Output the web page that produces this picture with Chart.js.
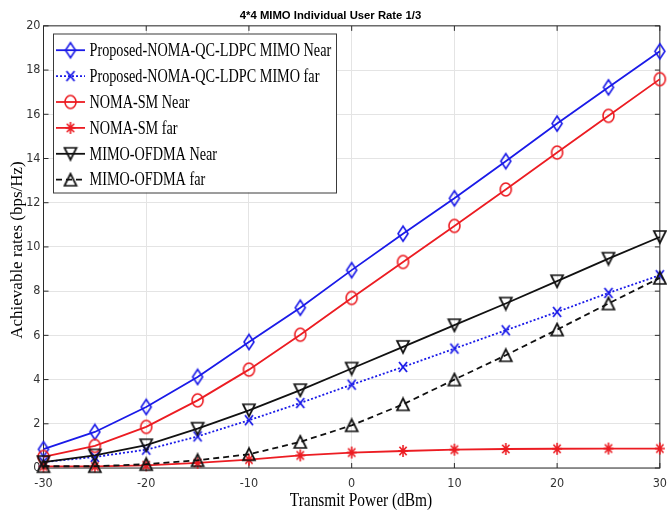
<!DOCTYPE html>
<html>
<head>
<meta charset="utf-8">
<title>4*4 MIMO Individual User Rate 1/3</title>
<script src="https://cdn.jsdelivr.net/npm/chart.js@4.4.1/dist/chart.umd.min.js"></script>
<style>
    html, body { margin: 0; padding: 0; background: #fff; }
    #wrap { width: 667px; height: 514px; }
</style>
</head>
<body>
<div id="wrap"><canvas id="rateChart" width="667" height="514"></canvas></div>
<script>
// transmit power sweep (dBm)
const powerDbm = [-30, -25, -20, -15, -10, -5, 0, 5, 10, 15, 20, 25, 30];

// achievable rates (bps/Hz)
const proposedNear = [0.85, 1.63, 2.76, 4.12, 5.7, 7.25, 8.95, 10.6, 12.2, 13.88, 15.58, 17.22, 18.85];
const proposedFar = [0.27, 0.5, 0.83, 1.43, 2.16, 2.94, 3.77, 4.57, 5.4, 6.23, 7.06, 7.92, 8.72];
const smNear = [0.5, 1.0, 1.86, 3.06, 4.45, 6.03, 7.69, 9.32, 10.95, 12.6, 14.27, 15.93, 17.59];
const smFar = [0.07, 0.07, 0.12, 0.23, 0.38, 0.57, 0.7, 0.77, 0.83, 0.86, 0.87, 0.88, 0.88];
const ofdmaNear = [0.27, 0.57, 1.03, 1.78, 2.61, 3.52, 4.5, 5.48, 6.46, 7.44, 8.45, 9.47, 10.45];
const ofdmaFar = [0.08, 0.08, 0.17, 0.35, 0.62, 1.18, 1.93, 2.88, 4.0, 5.1, 6.26, 7.44, 8.6];

const seriesNames = [
    'Proposed-NOMA-QC-LDPC MIMO Near',
    'Proposed-NOMA-QC-LDPC MIMO far',
    'NOMA-SM Near',
    'NOMA-SM far',
    'MIMO-OFDMA Near',
    'MIMO-OFDMA far'
];
const seriesValues = [proposedNear, proposedFar, smNear, smFar, ofdmaNear, ofdmaFar];

const xTicks = [-30, -20, -10, 0, 10, 20, 30];
const yTicks = [0, 2, 4, 6, 8, 10, 12, 14, 16, 18, 20];

const chartTitle = '4*4 MIMO Individual User Rate 1/3';
const xTitle = 'Transmit Power (dBm)';
const yTitle = 'Achievable rates (bps/Hz)';

const BLUE = '#1a1ae8';
const RED = '#ec1c22';
const BLACK = '#111111';
const AXIS = '#2b2b2b';

// small offscreen canvases used as point styles (markers are a bit taller than wide)
const makeMarker = (kind, color, w, h, lw) => {
    const c = document.createElement('canvas');
    c.width = Math.ceil(w + 4);
    c.height = Math.ceil(h + 4);
    const g = c.getContext('2d');
    const cx = c.width / 2, cy = c.height / 2;
    g.strokeStyle = color;
    g.lineWidth = lw;
    g.lineJoin = 'miter';
    g.beginPath();
    if (kind === 'diamond') {
        g.moveTo(cx, cy - h / 2);
        g.lineTo(cx + w / 2, cy);
        g.lineTo(cx, cy + h / 2);
        g.lineTo(cx - w / 2, cy);
        g.closePath();
    } else if (kind === 'circle') {
        g.ellipse(cx, cy, w / 2, h / 2, 0, 0, Math.PI * 2);
    } else if (kind === 'down') {
        g.moveTo(cx - w / 2, cy - h / 2);
        g.lineTo(cx + w / 2, cy - h / 2);
        g.lineTo(cx, cy + h / 2);
        g.closePath();
    } else if (kind === 'up') {
        g.moveTo(cx, cy - h / 2);
        g.lineTo(cx + w / 2, cy + h / 2);
        g.lineTo(cx - w / 2, cy + h / 2);
        g.closePath();
    } else if (kind === 'x') {
        g.moveTo(cx - w / 2, cy - h / 2);
        g.lineTo(cx + w / 2, cy + h / 2);
        g.moveTo(cx + w / 2, cy - h / 2);
        g.lineTo(cx - w / 2, cy + h / 2);
    } else if (kind === 'star') {
        g.moveTo(cx - w / 2, cy);
        g.lineTo(cx + w / 2, cy);
        g.moveTo(cx, cy - h / 2);
        g.lineTo(cx, cy + h / 2);
        g.moveTo(cx - w * 0.36, cy - h * 0.36);
        g.lineTo(cx + w * 0.36, cy + h * 0.36);
        g.moveTo(cx + w * 0.36, cy - h * 0.36);
        g.lineTo(cx - w * 0.36, cy + h * 0.36);
    }
    g.stroke();
    return c;
};

const styles = [
    { color: BLUE, dash: [], marker: makeMarker('diamond', BLUE, 10, 15, 1.6) },
    { color: BLUE, dash: [2, 2], marker: makeMarker('x', BLUE, 8, 10, 1.8) },
    { color: RED, dash: [], marker: makeMarker('circle', RED, 11, 13, 1.6) },
    { color: RED, dash: [], marker: makeMarker('star', RED, 10, 12, 1.6) },
    { color: BLACK, dash: [], marker: makeMarker('down', BLACK, 12, 12, 1.7) },
    { color: BLACK, dash: [6, 4], marker: makeMarker('up', BLACK, 12, 12, 1.7) }
];

const datasets = seriesNames.map((name, i) => ({
    label: name,
    data: powerDbm.map((p, k) => ({ x: p, y: seriesValues[i][k] })),
    borderColor: styles[i].color,
    borderWidth: 1.8,
    borderDash: styles[i].dash,
    pointStyle: styles[i].marker,
    pointRadius: 6,
    tension: 0,
    fill: false,
    clip: false,
    order: seriesNames.length - i
}));

// text drawn slightly condensed, like the original figure's fonts
const drawText = (ctx, text, x, y, font, sx, angle) => {
    ctx.save();
    ctx.translate(x, y);
    if (angle) ctx.rotate(angle);
    ctx.scale(sx, 1);
    ctx.font = font;
    ctx.fillText(text, 0, 0);
    ctx.restore();
};

// axes box with inward tick marks on all four sides
const framePlugin = {
    id: 'frame',
    beforeDatasetsDraw(chart) {
        const { ctx, chartArea: a, scales } = chart;
        ctx.save();
        ctx.strokeStyle = AXIS;
        ctx.lineWidth = 1;
        ctx.strokeRect(a.left, a.top, a.right - a.left, a.bottom - a.top);
        ctx.beginPath();
        xTicks.forEach(v => {
            const px = scales.x.getPixelForValue(v);
            ctx.moveTo(px, a.bottom); ctx.lineTo(px, a.bottom - 5);
            ctx.moveTo(px, a.top); ctx.lineTo(px, a.top + 5);
        });
        yTicks.forEach(v => {
            const py = scales.y.getPixelForValue(v);
            ctx.moveTo(a.left, py); ctx.lineTo(a.left + 5, py);
            ctx.moveTo(a.right, py); ctx.lineTo(a.right - 5, py);
        });
        ctx.stroke();
        ctx.restore();
    },
    afterDraw(chart) {
        const { ctx } = chart;
        ctx.save();
        ctx.fillStyle = '#000';
        ctx.textAlign = 'center';
        ctx.textBaseline = 'middle';
        drawText(ctx, xTitle, 361, 501, '18px "Liberation Serif", "Times New Roman", serif', 0.856, 0);
        drawText(ctx, yTitle, 18, 250, '17px "Liberation Serif", "Times New Roman", serif', 1, -Math.PI / 2);
        ctx.restore();
    }
};

// boxed legend in the upper-left corner of the plot
const boxLegendPlugin = {
    id: 'boxLegend',
    afterDraw(chart) {
        const { ctx } = chart;
        const box = { x: 53, y: 33.5, w: 283, h: 159 };
        const rowH = 25.9;
        ctx.save();
        ctx.fillStyle = '#fff';
        ctx.fillRect(box.x, box.y, box.w, box.h);
        ctx.strokeStyle = '#3a3a3a';
        ctx.lineWidth = 1;
        ctx.strokeRect(box.x + 0.5, box.y + 0.5, box.w, box.h);
        chart.data.datasets.forEach((ds, i) => {
            const y = box.y + 16.7 + i * rowH;
            ctx.save();
            ctx.strokeStyle = ds.borderColor;
            ctx.lineWidth = ds.borderWidth;
            ctx.setLineDash(ds.borderDash);
            ctx.beginPath();
            ctx.moveTo(56, y);
            ctx.lineTo(85, y);
            ctx.stroke();
            ctx.restore();
            const m = ds.pointStyle;
            ctx.drawImage(m, 70.5 - m.width / 2, y - m.height / 2);
            ctx.fillStyle = '#000';
            ctx.textAlign = 'left';
            ctx.textBaseline = 'middle';
            drawText(ctx, ds.label, 89.5, y + 1, '18px "Liberation Serif", "Times New Roman", serif', 0.79, 0);
        });
        ctx.restore();
    }
};

const tickFont = { family: '"Liberation Sans Narrow", "DejaVu Sans Condensed", "Liberation Sans", sans-serif', size: 12.5 };

new Chart(document.getElementById('rateChart'), {
    type: 'line',
    data: { datasets: datasets },
    options: {
        responsive: false,
        animation: false,
        devicePixelRatio: 1,
        layout: { autoPadding: false, padding: { left: 0, right: 6, top: 0, bottom: 0 } },
        plugins: {
            legend: { display: false },
            tooltip: { enabled: false },
            title: {
                display: true,
                text: chartTitle,
                color: '#000',
                font: { family: '"Liberation Sans", Arial, sans-serif', size: 11.3, weight: 'bold', lineHeight: 1.2 },
                padding: { top: 9, bottom: 3.3 }
            }
        },
        scales: {
            x: {
                type: 'linear',
                min: -30,
                max: 30,
                afterBuildTicks: (scale) => { scale.ticks = xTicks.map(v => ({ value: v })); },
                afterFit: (scale) => { scale.height = 46; },
                ticks: { color: '#333', font: tickFont, padding: 0, maxRotation: 0 },
                // invisible tick marks only push the labels down a little
                grid: { color: '#e4e4e4', lineWidth: 1, drawTicks: true, tickLength: 8, tickColor: 'rgba(0,0,0,0)' },
                border: { display: false }
            },
            y: {
                type: 'linear',
                min: 0,
                max: 20,
                afterBuildTicks: (scale) => { scale.ticks = yTicks.map(v => ({ value: v })); },
                afterFit: (scale) => { scale.width = 43.5; },
                ticks: { color: '#333', font: tickFont, padding: 3 },
                grid: { color: '#e4e4e4', lineWidth: 1, drawTicks: false },
                border: { display: false }
            }
        }
    },
    plugins: [framePlugin, boxLegendPlugin]
});
</script>
</body>
</html>
